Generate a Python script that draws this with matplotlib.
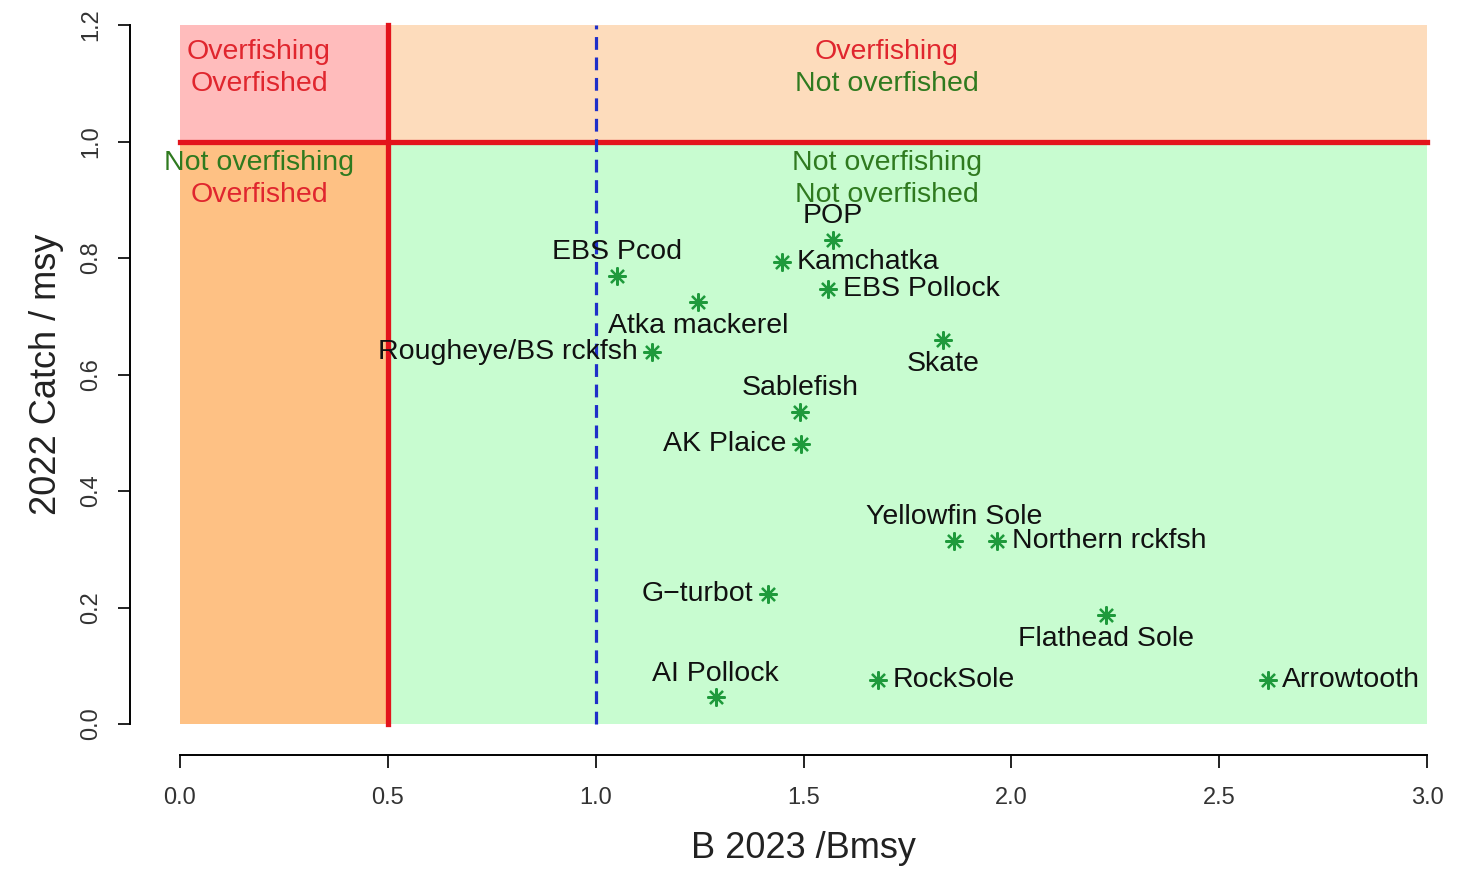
import numpy as np
import matplotlib.pyplot as plt
from matplotlib.patches import Rectangle

plt.rcParams['font.family'] = ['Liberation Sans', 'DejaVu Sans']

# stock status values
stocks = ['POP', 'Kamchatka', 'EBS Pollock', 'EBS Pcod', 'Atka mackerel',
          'Rougheye/BS rckfsh', 'Skate', 'Sablefish', 'AK Plaice', 'Yellowfin Sole',
          'Northern rckfsh', 'G\u2212turbot', 'Flathead Sole', 'AI Pollock',
          'RockSole', 'Arrowtooth']
b_ratio = [1.571, 1.449, 1.559, 1.051, 1.246, 1.136, 1.836, 1.492, 1.494, 1.862,
           1.966, 1.414, 2.228, 1.289, 1.679, 2.617]
catch_ratio = [0.831, 0.793, 0.747, 0.769, 0.724, 0.639, 0.659, 0.536, 0.481, 0.314,
               0.314, 0.223, 0.187, 0.046, 0.076, 0.076]
# R-style text position: 1 below, 2 left, 3 above, 4 right
label_pos = [3, 4, 4, 3, 1, 2, 1, 3, 2, 3, 4, 2, 1, 3, 4, 4]

x_ticks = [0.0, 0.5, 1.0, 1.5, 2.0, 2.5, 3.0]
y_ticks = [0.0, 0.2, 0.4, 0.6, 0.8, 1.0, 1.2]

RED = '#e3141c'
GREEN_TXT = '#2f7a1f'
RED_TXT = '#e0262e'

fig = plt.figure(figsize=(14.63, 8.71), dpi=100)
ax = fig.add_axes([180 / 1463, 1 - 724 / 871, (1427 - 180) / 1463, (724 - 25) / 871])
ax.set_xlim(0, 3)
ax.set_ylim(0, 1.2)

# quadrant backgrounds
ax.add_patch(Rectangle((0, 1), 0.5, 0.2, color='#ffbcbc', lw=0, zorder=0))
ax.add_patch(Rectangle((0.5, 1), 2.5, 0.2, color='#fddcbc', lw=0, zorder=0))
ax.add_patch(Rectangle((0, 0), 0.5, 1, color='#fec184', lw=0, zorder=0))
ax.add_patch(Rectangle((0.5, 0), 2.5, 1, color='#c8fcd0', lw=0, zorder=0))

ax.plot([0, 3], [1, 1], color=RED, lw=3.8, zorder=2, clip_on=False)
ax.plot([0.5, 0.5], [0, 1.2], color=RED, lw=3.8, zorder=2, clip_on=False)
ax.plot([1, 1], [0, 1.2], color='#1f2fc8', lw=2.3, ls=(0, (4, 2.4)), zorder=2, clip_on=False)

# quadrant captions
fs = 20.5
ax.text(0.19, 1.154, 'Overfishing', color=RED_TXT, fontsize=fs, ha='center', va='center')
ax.text(0.19, 1.099, 'Overfished', color=RED_TXT, fontsize=fs, ha='center', va='center')
ax.text(1.70, 1.154, 'Overfishing', color=RED_TXT, fontsize=fs, ha='center', va='center')
ax.text(1.70, 1.099, 'Not overfished', color=GREEN_TXT, fontsize=fs, ha='center', va='center')
ax.text(0.19, 0.963, 'Not overfishing', color=GREEN_TXT, fontsize=fs, ha='center', va='center')
ax.text(0.19, 0.908, 'Overfished', color=RED_TXT, fontsize=fs, ha='center', va='center')
ax.text(1.70, 0.963, 'Not overfishing', color=GREEN_TXT, fontsize=fs, ha='center', va='center')
ax.text(1.70, 0.908, 'Not overfished', color=GREEN_TXT, fontsize=fs, ha='center', va='center')

# points
ax.plot(b_ratio, catch_ratio, ls='none', marker=(8, 2, 0), markersize=13,
        markeredgewidth=1.6, color='#1f9a3c', zorder=3)

offsets = {1: (0, -17, 'center'), 2: (-10.5, 0, 'right'), 3: (0, 17, 'center'),
           4: (10.5, 0, 'left')}
for name, x, y, p in zip(stocks, b_ratio, catch_ratio, label_pos):
    dx, dy, ha = offsets[p]
    ax.annotate(name, (x, y), xytext=(dx, dy), textcoords='offset points',
                ha=ha, va='center', fontsize=fs, color='#111111', zorder=4)

# R-like detached axes
for s in ['top', 'right']:
    ax.spines[s].set_visible(False)
ax.spines['left'].set_position(('outward', 36))
ax.spines['bottom'].set_position(('outward', 22))
ax.spines['left'].set_bounds(0, 1.2)
ax.spines['bottom'].set_bounds(0, 3)
ax.spines['left'].set_linewidth(1.4)
ax.spines['bottom'].set_linewidth(1.4)
ax.set_xticks(x_ticks)
ax.set_xticklabels(['%.1f' % v for v in x_ticks])
ax.set_yticks(y_ticks)
ax.set_yticklabels(['%.1f' % v for v in y_ticks], rotation=90, va='center')
ax.tick_params(axis='both', length=9, width=1.4, labelsize=17, color='#222222',
               labelcolor='#333333')
ax.tick_params(axis='x', pad=14)
ax.tick_params(axis='y', pad=11)

ax.set_xlabel('B 2023 /Bmsy', fontsize=26, color='#222222', labelpad=16)
ax.set_ylabel('2022 Catch / msy', fontsize=26, color='#222222', labelpad=12)

fig.savefig('out.png', dpi=100)
